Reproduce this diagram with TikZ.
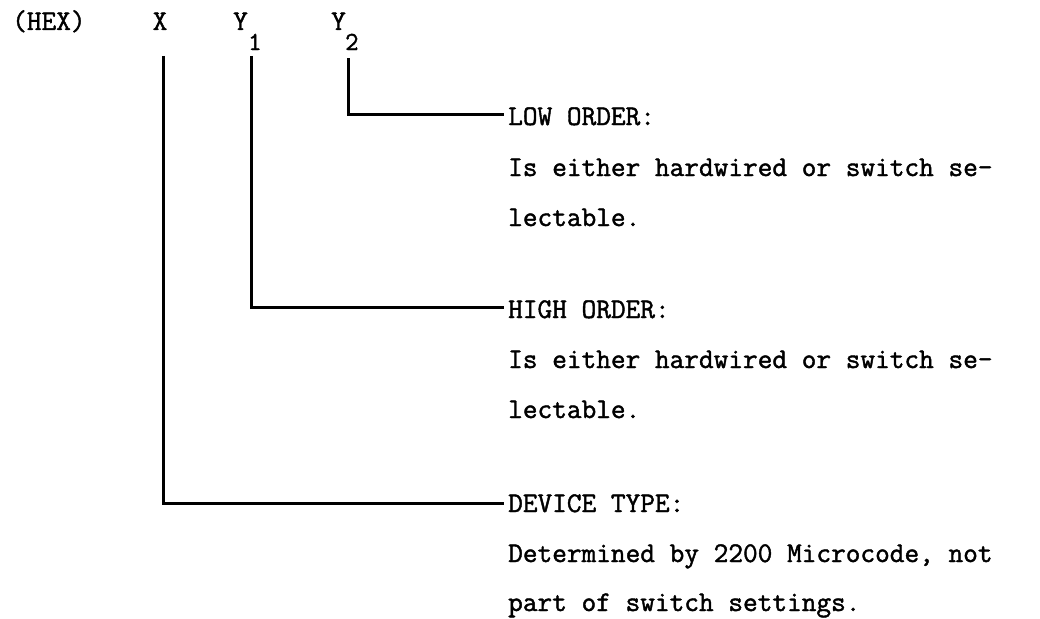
\documentclass[tikz,border=0pt]{standalone}
\usepackage{fontspec}
\setmonofont[FakeBold=1.5]{Latin Modern Mono}
\begin{document}
\begin{tikzpicture}[x=1pt,y=-1pt,
  txt/.style={anchor=base west,inner sep=0pt,font=\ttfamily\fontsize{28.5}{50}\selectfont},
  sub/.style={anchor=base west,inner sep=0pt,font=\ttfamily\fontsize{26}{50}\selectfont},
  conn/.style={line width=3pt,line cap=butt,line join=miter}]
\useasboundingbox (0,0) rectangle (1040,618);
% header
\node[txt] (hex) at (12,30) {(HEX)};
\node[txt] (X) at (152.5,30) {X};
\node[txt] (Y1) at (233,30) {Y};
\node[sub] (s1) at (248,50) {1};
\node[txt] (Y2) at (331,30) {Y};
\node[sub] (s2) at (345,50) {2};
% labels
\node[txt] (low) at (508,125) {LOW ORDER:};
\node[txt] (low2) at (508,176) {Is either hardwired or switch se-};
\node[txt] (low3) at (508,226) {lectable.};
\node[txt] (high) at (508,318) {HIGH ORDER:};
\node[txt] (high2) at (508,368) {Is either hardwired or switch se-};
\node[txt] (high3) at (508,418) {lectable.};
\node[txt] (dev) at (508,512) {DEVICE TYPE:};
\node[txt] (dev2) at (508,562) {Determined by 2200 Microcode, not};
\node[txt] (dev3) at (508,611) {part of switch settings.};
% connector ends
\coordinate (xtop) at (163,56);
\coordinate (y1top) at (251,56);
\coordinate (y2top) at (348,58);
\coordinate (lowend) at (504,114);
\coordinate (highend) at (504,307);
\coordinate (devend) at (504,503);
\draw[conn] (y2top) |- (lowend);
\draw[conn] (y1top) |- (highend);
\draw[conn] (xtop) |- (devend);
\end{tikzpicture}
\end{document}
